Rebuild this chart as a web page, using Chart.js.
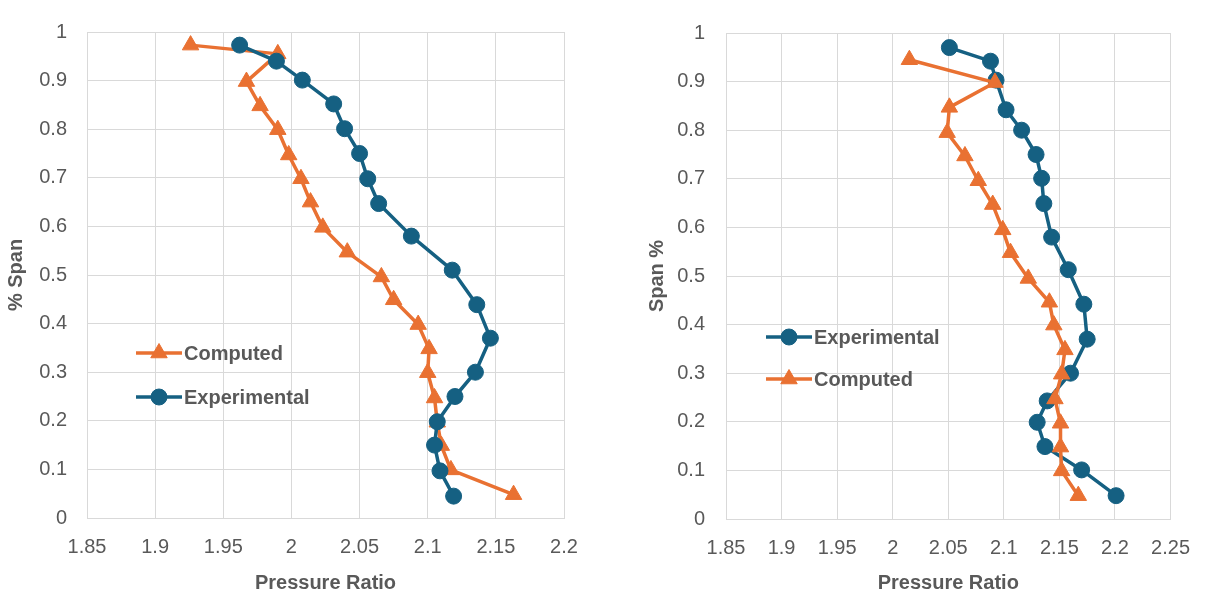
<!DOCTYPE html>
<html>
<head>
<meta charset="utf-8">
<script src="https://cdn.jsdelivr.net/npm/chart.js@4.4.1/dist/chart.umd.min.js"></script>
<style>
  html, body { margin: 0; padding: 0; background: #fff; }
  .box { position: absolute; top: 0; height: 596px; }
  #leftBox { left: 0; width: 600px; }
  #rightBox { left: 600px; width: 607px; }
</style>
</head>
<body>
<div class="box" id="leftBox"><canvas id="leftChart"></canvas></div>
<div class="box" id="rightBox"><canvas id="rightChart"></canvas></div>
<script>
// DATA - left panel
const leftExpPR   = [1.962, 1.989, 2.008, 2.031, 2.039, 2.050, 2.056, 2.064, 2.088, 2.118, 2.136, 2.146, 2.135, 2.120, 2.107, 2.105, 2.109, 2.119];
const leftExpSpan = [0.973, 0.940, 0.901, 0.852, 0.801, 0.750, 0.698, 0.647, 0.580, 0.510, 0.439, 0.370, 0.300, 0.250, 0.198, 0.150, 0.097, 0.045];
const leftCompPR   = [1.926, 1.990, 1.967, 1.977, 1.990, 1.998, 2.007, 2.014, 2.023, 2.041, 2.066, 2.075, 2.093, 2.101, 2.100, 2.105, 2.107, 2.110, 2.117, 2.163];
const leftCompSpan = [0.973, 0.955, 0.898, 0.848, 0.799, 0.747, 0.698, 0.650, 0.598, 0.547, 0.496, 0.449, 0.398, 0.348, 0.299, 0.247, 0.197, 0.149, 0.099, 0.048];

// DATA - right panel
const rightExpPR   = [2.051, 2.088, 2.093, 2.102, 2.116, 2.129, 2.134, 2.136, 2.143, 2.158, 2.172, 2.175, 2.160, 2.139, 2.130, 2.137, 2.170, 2.201];
const rightExpSpan = [0.970, 0.942, 0.903, 0.842, 0.800, 0.750, 0.701, 0.649, 0.580, 0.513, 0.442, 0.370, 0.300, 0.243, 0.199, 0.149, 0.101, 0.048];
const rightCompPR   = [2.015, 2.092, 2.051, 2.049, 2.065, 2.077, 2.090, 2.099, 2.106, 2.122, 2.141, 2.145, 2.155, 2.152, 2.146, 2.151, 2.151, 2.152, 2.167];
const rightCompSpan = [0.945, 0.898, 0.847, 0.795, 0.747, 0.696, 0.647, 0.595, 0.548, 0.495, 0.446, 0.399, 0.348, 0.298, 0.247, 0.197, 0.148, 0.099, 0.048];

// TICKS
const leftXTicks  = [1.85, 1.9, 1.95, 2, 2.05, 2.1, 2.15, 2.2];
const rightXTicks = [1.85, 1.9, 1.95, 2, 2.05, 2.1, 2.15, 2.2, 2.25];
const spanTicks   = [0, 0.1, 0.2, 0.3, 0.4, 0.5, 0.6, 0.7, 0.8, 0.9, 1];

const BLUE = "#156082";
const ORANGE = "#E97132";
const GREY = "#595959";
const GRID = "#d9d9d9";
const FONT = "'Liberation Sans', Arial, sans-serif";

function pairs(xs, ys) {
    return xs.map((x, i) => ({ x: x, y: ys[i] }));
}

function expSet(xs, ys) {
    return {
        label: "Experimental",
        data: pairs(xs, ys),
        showLine: true,
        borderColor: BLUE,
        backgroundColor: BLUE,
        borderWidth: 3.5,
        borderJoinStyle: "round",
        pointStyle: "circle",
        pointRadius: 8,
        pointBorderWidth: 1,
        pointBackgroundColor: BLUE,
        pointBorderColor: BLUE
    };
}

function compSet(xs, ys) {
    return {
        label: "Computed",
        data: pairs(xs, ys),
        showLine: true,
        borderColor: ORANGE,
        backgroundColor: ORANGE,
        borderWidth: 3.5,
        borderJoinStyle: "round",
        pointStyle: "triangle",
        pointRadius: 9.5,
        pointBorderWidth: 1,
        pointBackgroundColor: ORANGE,
        pointBorderColor: ORANGE
    };
}

// legend drawn as line + marker, like the spreadsheet one
const lineLegend = {
    id: "lineLegend",
    afterDraw(chart, args, opts) {
        const ctx = chart.ctx;
        ctx.save();
        opts.items.forEach((item, i) => {
            const ds = chart.data.datasets.find(d => d.label === item);
            const y = opts.y[i];
            const x0 = opts.x;
            ctx.strokeStyle = ds.borderColor;
            ctx.lineWidth = 3.5;
            ctx.beginPath();
            ctx.moveTo(x0, y);
            ctx.lineTo(x0 + 46, y);
            ctx.stroke();
            ctx.fillStyle = ds.pointBackgroundColor;
            ctx.strokeStyle = ds.pointBorderColor;
            ctx.lineWidth = 1;
            Chart.helpers.drawPoint(ctx, {
                pointStyle: ds.pointStyle,
                radius: ds.pointRadius,
                rotation: 0,
                borderWidth: 1
            }, x0 + 23, y);
            ctx.fillStyle = GREY;
            ctx.font = "bold 20px " + FONT;
            ctx.textAlign = "left";
            ctx.textBaseline = "middle";
            ctx.fillText(item, x0 + 48, y + 1);
        });
        ctx.restore();
    }
};

function makeChart(id, cfg) {
    return new Chart(document.getElementById(id), {
        type: "scatter",
        data: { datasets: cfg.datasets },
        options: {
            responsive: true,
            maintainAspectRatio: false,
            animation: false,
            layout: { padding: { top: cfg.padTop, right: cfg.padRight, left: 0, bottom: 0 } },
            plugins: {
                legend: { display: false },
                tooltip: { enabled: false },
                lineLegend: cfg.legend
            },
            scales: {
                x: {
                    type: "linear",
                    min: cfg.xTicks[0],
                    max: cfg.xTicks[cfg.xTicks.length - 1],
                    afterBuildTicks: s => { s.ticks = cfg.xTicks.map(v => ({ value: v })); },
                    afterFit: s => { s.height = cfg.xHeight; },
                    grid: { color: GRID, lineWidth: 1, drawTicks: false },
                    border: { color: GRID, width: 1 },
                    ticks: {
                        color: GREY,
                        padding: 17,
                        font: { family: FONT, size: 20 },
                        callback: v => String(v)
                    },
                    title: {
                        display: true,
                        text: "Pressure Ratio",
                        color: GREY,
                        font: { family: FONT, size: 20, weight: "bold" },
                        padding: { top: 0, bottom: 1 }
                    }
                },
                y: {
                    type: "linear",
                    min: 0,
                    max: 1,
                    afterBuildTicks: s => { s.ticks = spanTicks.map(v => ({ value: v })); },
                    afterFit: s => { s.width = cfg.yWidth; },
                    grid: { color: GRID, lineWidth: 1, drawTicks: false },
                    border: { color: GRID, width: 1 },
                    ticks: {
                        color: GREY,
                        padding: cfg.yPad,
                        font: { family: FONT, size: 20 },
                        callback: v => String(v)
                    },
                    title: {
                        display: true,
                        text: cfg.yTitle,
                        color: GREY,
                        font: { family: FONT, size: 20, weight: "bold" },
                        padding: { top: cfg.yTitlePad, bottom: 0 }
                    }
                }
            }
        },
        plugins: [lineLegend]
    });
}

// LEFT: experimental drawn on top (index 0 is drawn last)
makeChart("leftChart", {
    datasets: [expSet(leftExpPR, leftExpSpan), compSet(leftCompPR, leftCompSpan)],
    xTicks: leftXTicks,
    yTitle: "% Span",
    padTop: 21, padRight: 36,
    yWidth: 87, xHeight: 78,
    yPad: 20, yTitlePad: 4,
    legend: { items: ["Computed", "Experimental"], x: 136, y: [353, 397] }
});

// RIGHT: computed drawn on top
makeChart("rightChart", {
    datasets: [compSet(rightCompPR, rightCompSpan), expSet(rightExpPR, rightExpSpan)],
    xTicks: rightXTicks,
    yTitle: "Span %",
    padTop: 24, padRight: 34,
    yWidth: 126, xHeight: 77,
    yPad: 21, yTitlePad: 45,
    legend: { items: ["Experimental", "Computed"], x: 166, y: [337, 379] }
});
</script>
</body>
</html>
